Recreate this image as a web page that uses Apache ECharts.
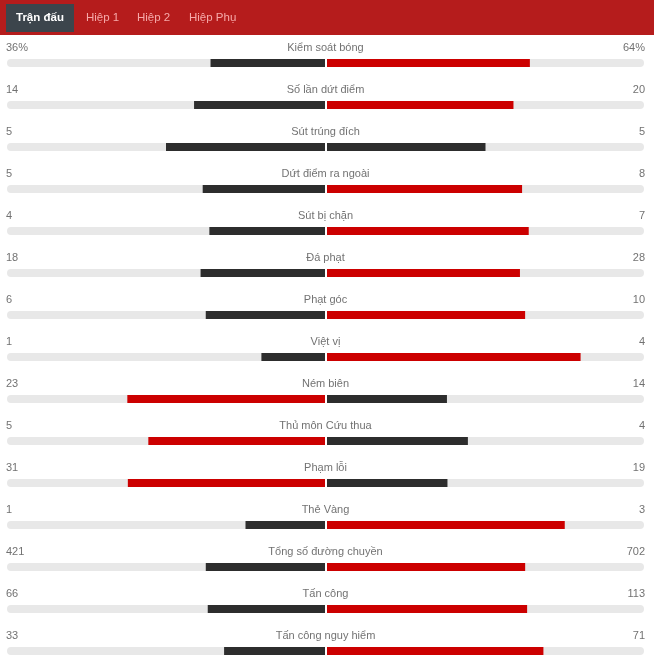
<!DOCTYPE html>
<html><head><meta charset="utf-8">
<script src="https://cdn.jsdelivr.net/npm/echarts@6/dist/echarts.min.js"></script>
<style>html,body{margin:0;padding:0;background:#fff}#c{width:654px;height:660px}</style>
</head><body><div id="c"></div>
<script>
const tabs = ['Trận đấu', 'Hiệp 1', 'Hiệp 2', 'Hiệp Phụ'];
const statLabels = ['Kiểm soát bóng', 'Số lần dứt điểm', 'Sút trúng đích', 'Dứt điểm ra ngoài', 'Sút bị chặn', 'Đá phạt', 'Phạt góc', 'Việt vị', 'Ném biên', 'Thủ môn Cứu thua', 'Phạm lỗi', 'Thẻ Vàng', 'Tổng số đường chuyền', 'Tấn công', 'Tấn công nguy hiểm'];
const homeValues = [36, 14, 5, 5, 4, 18, 6, 1, 23, 5, 31, 1, 421, 66, 33];
const awayValues = [64, 20, 5, 8, 7, 28, 10, 4, 14, 4, 19, 3, 702, 113, 71];
const percentRows = [0];

const RED = '#cc0000', DARK = '#2d2d2d', TRACK = '#e8e8e8';
const FONT = '"Liberation Sans", Arial, sans-serif';
const fmt = (v, i) => percentRows.includes(i) ? v + '%' : String(v);
const homeShare = homeValues.map((h, i) => h / (h + awayValues[i]));
const awayShare = awayValues.map((a, i) => a / (homeValues[i] + a));
const colorFor = (mine, other) => mine > other ? RED : DARK;

const chart = echarts.init(document.getElementById('c'), null, {renderer: 'canvas'});
const tabX = [6, 86, 137, 189];
const graphics = [
  {type: 'rect', shape: {x: 0, y: 0, width: 654, height: 35}, style: {fill: '#b51c1c'}, silent: true},
  {type: 'rect', shape: {x: 6, y: 4, width: 68, height: 28}, style: {fill: '#3c454c'}, silent: true}
];
tabs.forEach((t, i) => {
  graphics.push({
    type: 'text', left: i === 0 ? 16 : tabX[i], top: 12,
    style: {text: t, fill: i === 0 ? '#ffffff' : '#f6a9a9', font: (i === 0 ? 'bold 11.5px ' : '11.5px ') + FONT},
    silent: true
  });
});

const rowIdx = statLabels.map((_, i) => i);
const baseBar = {type: 'bar', barWidth: 8, barGap: '-100%', silent: true, animation: false};
const textLabel = {show: true, position: 'inside', color: '#4d4d4d', fontSize: 11, fontFamily: FONT, verticalAlign: 'middle'};

chart.setOption({
  animation: false,
  graphic: graphics,
  grid: [
    {left: 7, top: 42, width: 318, height: 630, outerBoundsMode: 'none', containLabel: false},
    {left: 327, top: 42, width: 317, height: 630, outerBoundsMode: 'none', containLabel: false}
  ],
  xAxis: [
    {type: 'value', gridIndex: 0, min: 0, max: 1, inverse: true, show: false},
    {type: 'value', gridIndex: 1, min: 0, max: 1, show: false}
  ],
  yAxis: [
    {type: 'category', gridIndex: 0, data: statLabels, inverse: true, show: false},
    {type: 'category', gridIndex: 1, data: statLabels, inverse: true, show: false}
  ],
  series: [
    Object.assign({}, baseBar, {xAxisIndex: 0, yAxisIndex: 0, z: 1, data: rowIdx.map(() => 1), itemStyle: {color: TRACK, borderRadius: 4}}),
    Object.assign({}, baseBar, {xAxisIndex: 0, yAxisIndex: 0, z: 2, data: homeShare.map((v, i) => ({value: v, itemStyle: {color: colorFor(homeValues[i], awayValues[i])}}))}),
    Object.assign({}, baseBar, {xAxisIndex: 1, yAxisIndex: 1, z: 1, data: rowIdx.map(() => 1), itemStyle: {color: TRACK, borderRadius: 4}}),
    Object.assign({}, baseBar, {xAxisIndex: 1, yAxisIndex: 1, z: 2, data: awayShare.map((v, i) => ({value: v, itemStyle: {color: colorFor(awayValues[i], homeValues[i])}}))}),
    {type: 'scatter', xAxisIndex: 0, yAxisIndex: 0, symbolSize: 1, itemStyle: {color: 'rgba(0,0,0,0)'}, silent: true, z: 5,
      data: rowIdx.map(i => [1, i]),
      label: Object.assign({}, textLabel, {align: 'left', offset: [-1, -15], formatter: p => fmt(homeValues[p.dataIndex], p.dataIndex)})},
    {type: 'scatter', xAxisIndex: 0, yAxisIndex: 0, symbolSize: 1, itemStyle: {color: 'rgba(0,0,0,0)'}, silent: true, z: 5,
      data: rowIdx.map(i => [0, i]),
      label: Object.assign({}, textLabel, {align: 'center', offset: [0.5, -15], formatter: p => statLabels[p.dataIndex]})},
    {type: 'scatter', xAxisIndex: 1, yAxisIndex: 1, symbolSize: 1, itemStyle: {color: 'rgba(0,0,0,0)'}, silent: true, z: 5,
      data: rowIdx.map(i => [1, i]),
      label: Object.assign({}, textLabel, {align: 'right', offset: [1, -15], formatter: p => fmt(awayValues[p.dataIndex], p.dataIndex)})}
  ]
});
</script></body></html>
